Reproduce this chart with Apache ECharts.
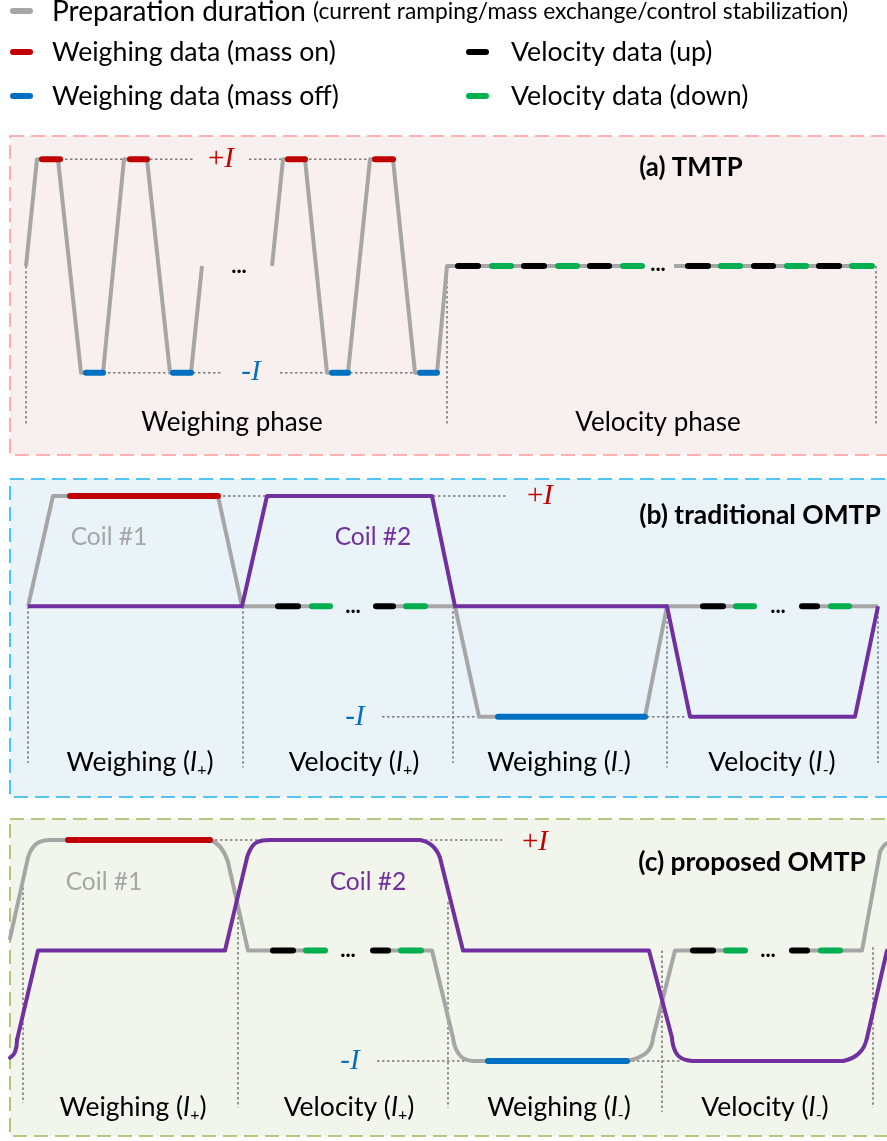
<!DOCTYPE html>
<html><head><meta charset="utf-8">
<script src="https://cdn.jsdelivr.net/npm/echarts@6/dist/echarts.min.js"></script>
<style>html,body{margin:0;padding:0;background:#fff}#chart{width:887px;height:1141px}</style>
</head><body><div id="chart"></div>
<script>
// ===== DATA: time in arbitrary units, current in % of I (+100 = +I, -100 = -I) =====
// Panel (a) TMTP
const aPrep = [
  [[26,0],[37,100],[58,100],[81,-100],[103,-100],[124,100],[147,100],[170,-100],[191,-100],[202,0]],
  [[272,0],[283,100],[305,100],[327,-100],[348,-100],[370,100],[393,100],[415,-100],[437,-100],[447,0],[642,0]],
  [[674,0],[872,0]]
];
const aMassOn  = [[42,60],[130,147],[288,305],[375,393]];
const aMassOff = [[86,103],[173,191],[332,348],[420,437]];
const aVelUp   = [[458,478],[524,544],[590,609],[688,708],[754,773],[819,839]];
const aVelDown = [[492,511],[558,577],[623,642],[721,740],[787,806],[852,872]];
const aGuideH  = [[60,193,100],[249,375,100],[103,223,-100],[280,420,-100]];
const aGuideV  = [[26,0,-150],[447,0,-150],[876,0,-150]];

// Panel (b) traditional OMTP
const bCoil1 = [
  [[28,0],[53,100],[218,100],[242,0],[330,0]],
  [[376,0],[455,0],[479,-100],[645,-100],[667,0],[754,0]],
  [[802,0],[878,0]]
];
const bCoil2 = [[28,0],[242,0],[267,100],[432,100],[455,0],[667,0],[690,-100],[855,-100],[878,0]];
const bMassOn  = [[70,218]];
const bMassOff = [[498,645]];
const bVelUp   = [[278,298],[376,393],[703,723],[802,817]];
const bVelDown = [[312,330],[406,425],[736,754],[831,849]];
const bGuideH  = [[218,507,100],[382,687,-100]];
const bGuideV  = [[28,0,-142],[243,0,-146],[453,0,-142],[667,0,-146],[878,0,-142]];

// Panel (c) proposed OMTP (straight pieces + rounded corners)
const cCoil1Straight = [
  [[10,11],[28,84]], [[50,100],[210,100]], [[228,80],[248,0],[325,0]],
  [[373,0],[432,0],[453,-79]], [[473,-100],[627,-100]], [[653,-79],[675,0],[745,0]],
  [[792,0],[862,0],[880,89]]
];
const cCoil1Round = [
  [[28,84],[37,97],[50,100]], [[210,100],[220,94],[228,80]],
  [[453,-79],[460,-95],[473,-100]], [[627,-100],[647,-92],[653,-79]], [[880,89],[884,95],[887,97]]
];
const cCoil2Straight = [
  [[17,-81],[38,0],[225,0],[247,84]], [[270,100],[420,100]],
  [[440,84],[463,0],[649,0],[672,-79]], [[693,-100],[843,-100]], [[867,-79],[887,0]]
];
const cCoil2Round = [
  [[10,-97],[15,-92],[17,-81]], [[247,84],[257,98],[270,100]], [[420,100],[432,95],[440,84]],
  [[672,-79],[678,-95],[693,-100]], [[843,-100],[859,-93],[867,-79]]
];
const cMassOn  = [[68,210]];
const cMassOff = [[488,627]];
const cVelUp   = [[273,293],[373,388],[693,713],[792,807]];
const cVelDown = [[306,325],[401,421],[726,745],[821,840]];
const cGuideH  = [[210,502,100],[377,680,-100]];
const cGuideV  = [[23,57,-138],[238,44,-142],[448,44,-142],[662,0,-146],[873,3,-142]];

// ===== STYLE / LAYOUT =====
const COL = {gray:'#A6A6A6', red:'#C00000', blue:'#0070C0', black:'#000000', green:'#00B050', purple:'#7030A0', guide:'#7A7A7A'};
const FONT = 'Lato';
const series = [];
function line(gi, pts, color, width, extra) {
  series.push(Object.assign({
    type:'line', xAxisIndex:gi, yAxisIndex:gi, data:pts, symbol:'none', silent:true,
    lineStyle:{color:color, width:width, cap:'round', join:'round'}, itemStyle:{color:color}, z:3
  }, extra||{}));
}
function guides(gi, H, V) {
  const st = {color:COL.guide, width:1.6, type:[2.5,2.5], cap:'butt'};
  H.forEach(h => line(gi, [[h[0],h[2]],[h[1],h[2]]], COL.guide, 1.6, {lineStyle:st, z:1}));
  V.forEach(v => line(gi, [[v[0],v[1]],[v[0],v[2]]], COL.guide, 1.6, {lineStyle:st, z:1}));
}
function segs(gi, ranges, level, color, z) {
  ranges.forEach(r => line(gi, [[r[0],level],[r[1],level]], color, 6, {z:z||6}));
}
// Panel a
guides(0, aGuideH, aGuideV);
aPrep.forEach(p => line(0, p, COL.gray, 4, {lineStyle:{color:COL.gray,width:4,cap:'butt',join:'round'}}));
segs(0, aMassOn, 100, COL.red); segs(0, aMassOff, -100, COL.blue);
segs(0, aVelUp, 0, COL.black); segs(0, aVelDown, 0, COL.green);
// Panel b
guides(1, bGuideH, bGuideV);
bCoil1.forEach(p => line(1, p, COL.gray, 4, {lineStyle:{color:COL.gray,width:4,cap:'butt',join:'round'}}));
line(1, bCoil2, COL.purple, 4, {z:4, lineStyle:{color:COL.purple,width:4,cap:'butt',join:'round'}});
segs(1, bMassOn, 100, COL.red); segs(1, bMassOff, -100, COL.blue);
segs(1, bVelUp, 0, COL.black); segs(1, bVelDown, 0, COL.green);
// Panel c
guides(2, cGuideH, cGuideV);
cCoil1Straight.forEach(p => line(2, p, COL.gray, 4));
cCoil1Round.forEach(p => line(2, p, COL.gray, 4, {smooth:0.5}));
cCoil2Straight.forEach(p => line(2, p, COL.purple, 4, {z:4}));
cCoil2Round.forEach(p => line(2, p, COL.purple, 4, {z:4, smooth:0.5}));
segs(2, cMassOn, 100, COL.red); segs(2, cMassOff, -100, COL.blue);
segs(2, cVelUp, 0, COL.black); segs(2, cVelDown, 0, COL.green);

// grids: y axis -160..120 (% of I); zero level, px per unit
const panels = [{zero:266, k:1.067}, {zero:606.35, k:1.1035}, {zero:950.5, k:1.105}];
const grid = panels.map(p => ({left:0, width:887, top:p.zero - 120*p.k, height:280*p.k, show:false}));
const xAxis = panels.map((p,i) => ({type:'value', gridIndex:i, min:0, max:887, show:false}));
const yAxis = panels.map((p,i) => ({type:'value', gridIndex:i, min:-160, max:120, show:false}));

// graphics: boxes, legend, texts
function box(y, h, fill, stroke) {
  return {type:'rect', shape:{x:10, y:y, width:900, height:h}, style:{fill:fill, stroke:stroke, lineWidth:1.6, lineDash:[14,7]}, z:-10, silent:true};
}
function txt(x, y, text, st) {
  return {type:'text', x:x, y:y, silent:true, z:50, style:Object.assign({text:text, fontFamily:FONT, fontSize:26, fill:'#000', align:'center', verticalAlign:'middle'}, st||{})};
}
function icon(x, y, color) {
  return {type:'line', shape:{x1:x, y1:y, x2:x+17, y2:y}, style:{stroke:color, lineWidth:6, lineCap:'round'}, silent:true};
}
const subRich = {
  a:{fontFamily:FONT, fontSize:26.5, lineHeight:32, fill:'#000'},
  i:{fontFamily:FONT, fontSize:26.5, lineHeight:32, fontStyle:'italic', fill:'#000'},
  s:{fontFamily:FONT, fontSize:16, verticalAlign:'bottom', fill:'#000'}
};
function phase(x, y, word, sign) {
  return txt(x, y, '{a|' + word + ' (}{i|I}{s|' + sign + '}{a|)}', {rich:subRich});
}
function plusI(x, y) {
  return txt(x, y, '{p|+}{i|I}', {rich:{
    p:{fontFamily:'Liberation Serif', fontSize:29, fill:COL.red},
    i:{fontFamily:'Liberation Serif', fontSize:29, fontStyle:'italic', fill:COL.red}}});
}
function minusI(x, y) { return txt(x, y, '-I', {fontFamily:'Liberation Serif', fontSize:29, fontStyle:'italic', fill:COL.blue}); }
function dots(x, y) { return txt(x, y, '...', {fontSize:22, fontWeight:'bold'}); }

const LEG = 26.7;
const graphic = [
  box(136, 319, '#F8F0EF', '#FF9999'),
  box(479, 318, '#EAF3F7', '#1EB4F0'),
  box(819, 317, '#F2F5EB', '#9BBB59'),
  // legend
  icon(13, 11, COL.gray), icon(13, 52, COL.red), icon(13, 96, COL.blue), icon(469, 52, COL.black), icon(469, 96, COL.green),
  txt(52, 12, '{a|Preparation duration }{b|(current ramping/mass exchange/control stabilization)}', {align:'left',
    rich:{a:{fontFamily:FONT, fontSize:28, fill:'#000'}, b:{fontFamily:FONT, fontSize:22.8, fill:'#000'}}}),
  txt(52, 52, 'Weighing data (mass on)', {align:'left', fontSize:LEG}),
  txt(52, 96, 'Weighing data (mass off)', {align:'left', fontSize:LEG}),
  txt(511, 52, 'Velocity data (up)', {align:'left', fontSize:LEG}),
  txt(511, 96, 'Velocity data (down)', {align:'left', fontSize:LEG}),
  // panel a
  plusI(221, 159), minusI(251, 372), dots(239, 266), dots(658, 264),
  txt(232, 423, 'Weighing phase'), txt(658, 423, 'Velocity phase'),
  txt(691, 168, '(a) TMTP', {fontWeight:'bold', fontSize:25.7}),
  // panel b
  plusI(540, 496), minusI(355, 717), dots(353, 606), dots(778, 606),
  txt(760, 515, '(b) traditional OMTP', {fontWeight:'bold', fontSize:26.4}),
  txt(109, 537, 'Coil #1', {fill:COL.gray, fontSize:24.6}), txt(373, 537, 'Coil #2', {fill:COL.purple, fontSize:24.6}),
  phase(140, 762, 'Weighing', '+'), phase(354, 762, 'Velocity', '+'),
  phase(559, 762, 'Weighing', '-'), phase(772, 762, 'Velocity', '-'),
  // panel c
  plusI(535, 842), minusI(350, 1061), dots(348, 950), dots(768, 950),
  txt(752, 862, '(c) proposed OMTP', {fontWeight:'bold', fontSize:26.4}),
  txt(104, 882, 'Coil #1', {fill:COL.gray, fontSize:24.6}), txt(368, 882, 'Coil #2', {fill:COL.purple, fontSize:24.6}),
  phase(133, 1107, 'Weighing', '+'), phase(349, 1107, 'Velocity', '+'),
  phase(559, 1107, 'Weighing', '-'), phase(765, 1107, 'Velocity', '-')
];

const chart = echarts.init(document.getElementById('chart'), null, {width:887, height:1141});
chart.setOption({animation:false, backgroundColor:'#ffffff', grid:grid, xAxis:xAxis, yAxis:yAxis, series:series, graphic:graphic});
</script></body></html>
